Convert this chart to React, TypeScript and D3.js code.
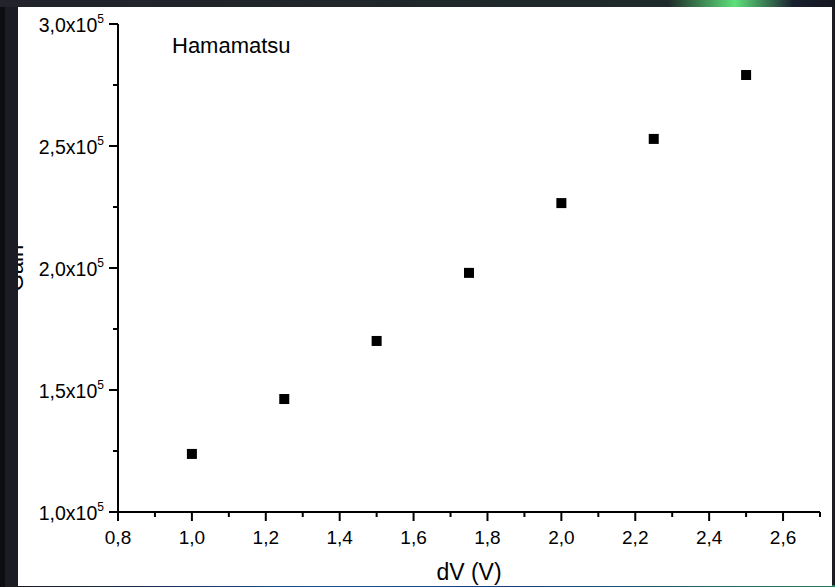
import React, { useEffect, useRef } from "react";
import * as d3 from "d3";

const dV = [1.0, 1.25, 1.5, 1.75, 2.0, 2.25, 2.5];
const gain = [1.238e5, 1.463e5, 1.701e5, 1.98e5, 2.266e5, 2.529e5, 2.791e5];

const xMajor = [0.8, 1.0, 1.2, 1.4, 1.6, 1.8, 2.0, 2.2, 2.4, 2.6];
const xMinor = [0.9, 1.1, 1.3, 1.5, 1.7, 1.9, 2.1, 2.3, 2.5, 2.7];
const yMajor = [1.0e5, 1.5e5, 2.0e5, 2.5e5, 3.0e5];
const yMinor = [1.25e5, 1.75e5, 2.25e5, 2.75e5];

const title = "Hamamatsu";
const xTitle = "dV (V)";
const yTitle = "Gain";

const width = 835;
const height = 587;
const margin = { top: 24, right: 15, bottom: 75, left: 118 };
const font = "Arial, 'Liberation Sans', sans-serif";

const App = () => {
  const svgRef = useRef(null);

  useEffect(() => {
    const svg = d3.select(svgRef.current);
    svg.selectAll("*").remove();

    const x = d3.scaleLinear().domain([0.8, 2.7]).range([margin.left, width - margin.right]);
    const y = d3.scaleLinear().domain([1e5, 3e5]).range([height - margin.bottom, margin.top]);

    // dark backdrop
    const defs = svg.append("defs");
    const g1 = defs.append("linearGradient").attr("id", "topglow");
    g1.append("stop").attr("offset", "0%").attr("stop-color", "#22232b");
    g1.append("stop").attr("offset", "80%").attr("stop-color", "#1f2a2a");
    g1.append("stop").attr("offset", "88%").attr("stop-color", "#5ee07a");
    g1.append("stop").attr("offset", "95%").attr("stop-color", "#1a2030");
    g1.append("stop").attr("offset", "100%").attr("stop-color", "#15171f");
    const g2 = defs.append("linearGradient").attr("id", "botglow");
    g2.append("stop").attr("offset", "0%").attr("stop-color", "#15161c");
    g2.append("stop").attr("offset", "40%").attr("stop-color", "#1d4f9a");
    g2.append("stop").attr("offset", "60%").attr("stop-color", "#1a3a80");
    g2.append("stop").attr("offset", "100%").attr("stop-color", "#2a7a5a");

    svg.append("rect").attr("width", width).attr("height", height).attr("fill", "#1c1d24");
    svg.append("rect").attr("width", width).attr("height", 7).attr("fill", "url(#topglow)");
    svg.append("rect").attr("y", 585).attr("width", width).attr("height", 2).attr("fill", "url(#botglow)");
    svg.append("rect").attr("x", 18).attr("y", 7).attr("width", 814).attr("height", 579).attr("fill", "#ffffff");

    // y title (partly hidden behind left strip)
    svg
      .append("text")
      .attr("transform", `translate(23, ${(y(1e5) + y(3e5)) / 2}) rotate(-90)`)
      .attr("text-anchor", "middle")
      .attr("font-family", font)
      .attr("font-size", 22)
      .text(yTitle);
    svg.append("rect").attr("width", 18).attr("y", 7).attr("height", 580).attr("fill", "#1c1d24");
    svg.append("rect").attr("width", 5).attr("y", 7).attr("height", 580).attr("fill", "#0e0e12");

    const axis = svg.append("g").attr("stroke", "#000").attr("stroke-width", 2);
    axis
      .append("line")
      .attr("x1", x(0.8))
      .attr("x2", x(2.7))
      .attr("y1", y(1e5))
      .attr("y2", y(1e5));
    axis
      .append("line")
      .attr("x1", x(0.8))
      .attr("x2", x(0.8))
      .attr("y1", y(1e5))
      .attr("y2", y(3e5));

    xMajor.forEach((v) => {
      axis.append("line").attr("x1", x(v)).attr("x2", x(v)).attr("y1", y(1e5)).attr("y2", y(1e5) + 9);
    });
    xMinor.forEach((v) => {
      axis.append("line").attr("x1", x(v)).attr("x2", x(v)).attr("y1", y(1e5)).attr("y2", y(1e5) + 5);
    });
    yMajor.forEach((v) => {
      axis.append("line").attr("x1", x(0.8) - 9).attr("x2", x(0.8)).attr("y1", y(v)).attr("y2", y(v));
    });
    yMinor.forEach((v) => {
      axis.append("line").attr("x1", x(0.8) - 5).attr("x2", x(0.8)).attr("y1", y(v)).attr("y2", y(v));
    });

    const fmt = (v) => d3.format(".1f")(v).replace(".", ",");

    svg
      .append("g")
      .selectAll("text")
      .data(xMajor)
      .enter()
      .append("text")
      .attr("x", (d) => x(d))
      .attr("y", y(1e5) + 32)
      .attr("text-anchor", "middle")
      .attr("font-family", font)
      .attr("font-size", 19)
      .text((d) => fmt(d));

    const yl = svg
      .append("g")
      .selectAll("text")
      .data(yMajor)
      .enter()
      .append("text")
      .attr("x", x(0.8) - 14)
      .attr("y", (d) => y(d) + 8)
      .attr("text-anchor", "end")
      .attr("font-family", font)
      .attr("font-size", 19.5);
    yl.append("tspan").text((d) => fmt(d / 1e5) + "x10");
    yl.append("tspan").attr("dy", -9).attr("font-size", 12).text("5");

    svg
      .append("text")
      .attr("x", (x(0.8) + x(2.7)) / 2)
      .attr("y", 580)
      .attr("text-anchor", "middle")
      .attr("font-family", font)
      .attr("font-size", 23)
      .text(xTitle);

    svg
      .append("text")
      .attr("x", 172)
      .attr("y", 53)
      .attr("font-family", font)
      .attr("font-size", 22)
      .text(title);

    // points
    svg
      .append("g")
      .selectAll("rect")
      .data(dV)
      .enter()
      .append("rect")
      .attr("x", (d) => x(d) - 5)
      .attr("y", (d, i) => y(gain[i]) - 5)
      .attr("width", 10)
      .attr("height", 10)
      .attr("fill", "#000");
  }, []);

  return (
    <svg
      ref={svgRef}
      width={width}
      height={height}
      style={{ position: "fixed", left: 0, top: 0 }}
    ></svg>
  );
};

export default App;
